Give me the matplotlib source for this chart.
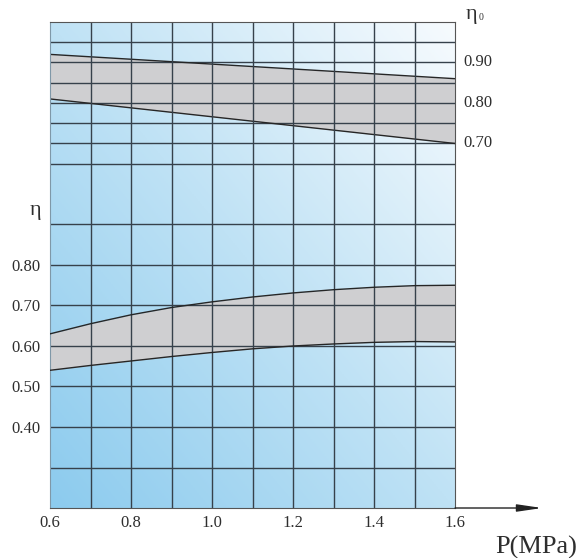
import numpy as np
import matplotlib.pyplot as plt
from matplotlib.colors import LinearSegmentedColormap

plt.rcParams['font.family'] = ['Liberation Serif', 'DejaVu Serif']

# pressure axis
p = [0.6, 0.7, 0.8, 0.9, 1.0, 1.1, 1.2, 1.3, 1.4, 1.5, 1.6]

# eta band (lower, left scale)
eta_hi = [0.630, 0.655, 0.677, 0.695, 0.709, 0.721, 0.731, 0.739, 0.745, 0.749, 0.750]
eta_lo = [0.540, 0.552, 0.563, 0.574, 0.584, 0.593, 0.600, 0.605, 0.609, 0.611, 0.610]

# eta0 band (upper, right scale)
eta0_p = [0.6, 1.6]
eta0_hi = [0.920, 0.860]
eta0_lo = [0.810, 0.700]

left_ticks = [0.40, 0.50, 0.60, 0.70, 0.80]
left_grid = [0.3, 0.4, 0.5, 0.6, 0.7, 0.8, 0.9]
right_ticks = [0.70, 0.80, 0.90]
right_grid = [0.65, 0.70, 0.75, 0.80, 0.85, 0.90, 0.95]
x_ticks = [0.6, 0.8, 1.0, 1.2, 1.4, 1.6]
x_grid = [0.7, 0.8, 0.9, 1.0, 1.1, 1.2, 1.3, 1.4, 1.5]

grid_c = '#36414b'
line_c = '#262626'
band_c = '#cfcfd1'
text_c = '#2e2e2e'

fig = plt.figure(figsize=(5.83, 5.58), dpi=100)
ax2 = fig.add_axes([0.0858, 0.0896, 0.6947, 0.8710])
ax = ax2.twinx()
ax.set_zorder(ax2.get_zorder() + 1)
ax.patch.set_visible(False)

ax.set_xlim(0.6, 1.6)
ax.set_ylim(0.2, 1.4)
ax2.set_ylim(-0.2, 1.0)

# background gradient, light blue bottom-left to white top-right
gx, gy = np.meshgrid(np.linspace(0, 1, 200), np.linspace(0, 1, 200))
t = (gx + gy) / 2
cmap = LinearSegmentedColormap.from_list('bg', ['#8ccbee', '#bfe2f5', '#f7fbfe'])
ax2.imshow(t, cmap=cmap, origin='lower', extent=(0.6, 1.6, -0.2, 1.0),
           aspect='auto', zorder=0, vmin=0, vmax=1)

# upper band on eta0 scale
ax2.fill_between(eta0_p, eta0_lo, eta0_hi, color=band_c, lw=0, zorder=1)
ax2.plot(eta0_p, eta0_hi, color=line_c, lw=1.0, zorder=3)
ax2.plot(eta0_p, eta0_lo, color=line_c, lw=1.0, zorder=3)
for y in right_grid:
    ax2.axhline(y, color=grid_c, lw=1.0, zorder=2)

# lower band on eta scale
ax.fill_between(p, eta_lo, eta_hi, color=band_c, lw=0, zorder=1)
ax.plot(p, eta_hi, color=line_c, lw=1.0, zorder=3)
ax.plot(p, eta_lo, color=line_c, lw=1.0, zorder=3)
for y in left_grid:
    ax.axhline(y, color=grid_c, lw=1.0, zorder=2)
for x in x_grid:
    ax.axvline(x, color=grid_c, lw=1.0, zorder=2)

# ticks
ax2.set_xticks(x_ticks)
ax2.set_xticklabels(['%.1f' % v for v in x_ticks])
ax2.yaxis.tick_left()
ax2.set_yticks([])
ax.yaxis.tick_left()
ax.set_yticks(left_ticks)
ax.set_yticklabels(['%.2f' % v for v in left_ticks])
ax.tick_params(axis='y', length=0, pad=7, labelsize=12, colors=text_c)
ax2.tick_params(axis='x', length=0, pad=5, labelsize=12, colors=text_c)

# right scale labels for eta0
for v in right_ticks:
    ax2.text(1.0 + 8 / 405, v, '%.2f' % v, transform=ax2.get_yaxis_transform(),
             ha='left', va='center', fontsize=12, color=text_c)

for a in (ax, ax2):
    for s in a.spines.values():
        s.set_visible(False)
for side in ('top', 'right', 'bottom'):
    ax.spines[side].set_visible(True)
    ax.spines[side].set_color('#555555')
ax.spines['left'].set_visible(True)
ax.spines['left'].set_color('#7f98a8')

# x-axis arrow
ax.annotate('', xy=(1.215, 0), xytext=(1.0, 0), xycoords='axes fraction',
            textcoords='axes fraction',
            arrowprops=dict(arrowstyle='-|>,head_length=1.5,head_width=0.22',
                            color='#222222', lw=1.0, mutation_scale=10,
                            shrinkA=0, shrinkB=0))

# axis labels
fig.text(577 / 583, 1 - 547 / 558, 'P(MPa)', ha='right', va='center',
         fontsize=19, color=text_c)
fig.text(35 / 583, 1 - 211 / 558, 'η', ha='center', va='center',
         fontsize=16, color=text_c)
fig.text(471 / 583, 1 - 15 / 558, 'η', ha='center', va='center',
         fontsize=16, color=text_c)
fig.text(481 / 583, 1 - 18 / 558, '0', ha='center', va='center',
         fontsize=7, color=text_c)

fig.savefig('out.png', dpi=100)
